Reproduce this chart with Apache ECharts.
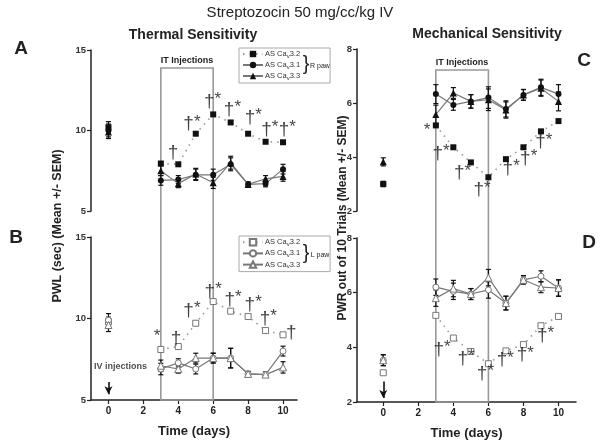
<!DOCTYPE html>
<html><head><meta charset="utf-8">
<script src="https://cdn.jsdelivr.net/npm/echarts@6/dist/echarts.min.js"></script>
<style>html,body{margin:0;padding:0;background:#fff}#c{width:601px;height:442px}</style>
</head><body><div id="c"></div>
<script>
const FONT = 'Liberation Sans, Arial, sans-serif';
const days = [0, 3, 4, 5, 6, 7, 8, 9, 10];
const xTicks = [0, 2, 4, 6, 8, 10];

// Panel A: thermal, right paw
const thermR_32 = [10.2, 7.95, 7.9, 9.8, 11.0, 10.5, 9.8, 9.3, 9.27];
const thermR_31 = [10.0, 6.9, 6.95, 7.25, 7.25, 7.9, 6.65, 6.7, 7.6];
const thermR_33 = [9.9, 7.5, 6.7, 7.3, 6.75, 8.0, 6.65, 7.0, 7.15];
const thermR_32_err = [0.35, 0.12, 0.1, 0.1, 0.1, 0.1, 0.1, 0.1, 0.1];
const thermR_31_err = [0.4, 0.3, 0.25, 0.35, 0.35, 0.4, 0.15, 0.2, 0.3];
const thermR_33_err = [0.4, 0.3, 0.25, 0.35, 0.35, 0.4, 0.15, 0.2, 0.3];

// Panel B: thermal, left paw
const thermL_32 = [9.8, 8.1, 8.28, 9.71, 11.04, 10.45, 10.12, 9.26, 9.0];
const thermL_31 = [9.9, 6.9, 7.28, 6.9, 7.57, 7.57, 6.6, 6.56, 8.0];
const thermL_33 = [9.6, 7.1, 6.9, 7.57, 7.57, 7.57, 6.6, 6.56, 7.0];
const thermL_32_err = [0.3, 0.1, 0.1, 0.1, 0.1, 0.1, 0.1, 0.1, 0.1];
const thermL_31_err = [0.4, 0.35, 0.25, 0.3, 0.3, 0.6, 0.15, 0.15, 0.3];
const thermL_33_err = [0.4, 0.35, 0.25, 0.3, 0.3, 0.6, 0.15, 0.15, 0.35];

// Panel C: mechanical, right paw
const mechR_32 = [3.0, 5.17, 4.36, 3.8, 3.25, 3.92, 4.36, 4.95, 5.33];
const mechR_31 = [3.0, 6.33, 5.93, 6.06, 6.2, 5.78, 6.3, 6.58, 6.33];
const mechR_33 = [3.82, 5.57, 6.37, 6.06, 6.12, 5.74, 6.3, 6.55, 6.06];
const mechR_32_err = [0.05, 0.05, 0.05, 0.05, 0.05, 0.05, 0.05, 0.05, 0.05];
const mechR_31_err = [0.1, 0.35, 0.2, 0.25, 0.4, 0.3, 0.2, 0.3, 0.35];
const mechR_33_err = [0.15, 0.35, 0.2, 0.25, 0.4, 0.3, 0.2, 0.3, 0.35];

// Panel D: mechanical, left paw
const mechL_32 = [3.07, 5.17, 4.34, 3.85, 3.4, 3.87, 4.1, 4.79, 5.13];
const mechL_31 = [3.53, 6.2, 6.05, 5.95, 6.1, 5.62, 6.47, 6.6, 6.17];
const mechL_33 = [3.53, 5.8, 6.15, 5.95, 6.55, 5.62, 6.47, 6.2, 6.17];
const mechL_32_err = [0.05, 0.05, 0.05, 0.05, 0.05, 0.05, 0.05, 0.05, 0.05];
const mechL_31_err = [0.2, 0.3, 0.3, 0.2, 0.3, 0.25, 0.15, 0.2, 0.3];
const mechL_33_err = [0.2, 0.3, 0.3, 0.2, 0.3, 0.25, 0.15, 0.2, 0.3];

// significance annotations [day, value, text]
const annA = [[3.7, 8.6, '†'], [4.78, 10.4, '†*'], [5.96, 11.8, '†*'], [7.1, 11.3, '†*'], [8.3, 10.8, '†*'], [9.24, 10.06, '†*'], [10.25, 10.06, '†*']];
const annB = [[2.78, 8.8, '*'], [3.87, 8.75, '†'], [4.78, 10.5, '†*'], [6.0, 11.66, '†*'], [7.14, 11.15, '†*'], [8.29, 10.86, '†*'], [9.16, 10.0, '†*'], [10.47, 9.1, '†']];
const annC = [[2.5, 4.9, '*'], [3.3, 4.13, '†*'], [4.53, 3.4, '†*'], [5.64, 2.78, '†*'], [7.3, 3.58, '†*'], [8.3, 3.94, '†*'], [9.16, 4.56, '†*']];
const annD = [[3.35, 3.92, '†*'], [4.72, 3.59, '†*'], [5.83, 3.04, '†*'], [6.97, 3.53, '†*'], [8.11, 3.71, '†*'], [9.26, 4.44, '†*']];

const legendNames = {s32: 'AS Ca{s|v}3.2', s31: 'AS Ca{s|v}3.1', s33: 'AS Ca{s|v}3.3'};

function lineData(vals) {
  const d = days.map((x, i) => [x, vals[i]]);
  d.splice(1, 0, [1.5, null]);
  return d;
}
function errData(vals, errs) {
  return days.map((x, i) => [x, vals[i] - errs[i], vals[i] + errs[i]]);
}
function lineSeries(name, gi, vals, sym, filled, dotted) {
  return {
    type: 'line', name, xAxisIndex: gi, yAxisIndex: gi, data: lineData(vals),
    symbol: sym, symbolSize: sym === 'triangle' ? 7 : 6, showSymbol: true, connectNulls: false, z: 4,
    itemStyle: filled ? {color: '#111'} : {color: '#fff', borderColor: '#777', borderWidth: 1},
    lineStyle: dotted ? {color: '#999', width: 1.6, type: [1.5, 5]} : {color: '#777', width: 1.2}
  };
}
function errSeries(gi, vals, errs, color) {
  return {
    type: 'custom', xAxisIndex: gi, yAxisIndex: gi, data: errData(vals, errs), z: 3, silent: true,
    encode: {x: 0, y: [1, 2]},
    renderItem: function (params, api) {
      const x = api.value(0);
      const p1 = api.coord([x, api.value(1)]);
      const p2 = api.coord([x, api.value(2)]);
      const w = 2.5;
      const st = {stroke: color, lineWidth: 1.2};
      return {type: 'group', children: [
        {type: 'line', shape: {x1: p1[0], y1: p1[1], x2: p2[0], y2: p2[1]}, style: st},
        {type: 'line', shape: {x1: p1[0] - w, y1: p1[1], x2: p1[0] + w, y2: p1[1]}, style: st},
        {type: 'line', shape: {x1: p2[0] - w, y1: p2[1], x2: p2[0] + w, y2: p2[1]}, style: st}
      ]};
    }
  };
}
function annSeries(gi, ann) {
  return {
    type: 'scatter', xAxisIndex: gi, yAxisIndex: gi, data: ann, symbolSize: 1, z: 5, silent: true,
    itemStyle: {color: 'rgba(0,0,0,0)'},
    label: {show: true, position: 'inside', formatter: p => {
      const t = p.data[2];
      return t.split('').map(c => c === '†' ? '{d|†}' : '{s|*}').join('');
    }, rich: {
      d: {fontSize: 19, color: '#111', fontFamily: FONT},
      s: {fontSize: 17, color: '#111', fontFamily: FONT, padding: [0, 0, 4, 0]}
    }}
  };
}
function itBox(gi) {
  return {
    type: 'line', xAxisIndex: gi, yAxisIndex: gi, data: [[-0.5, 0.5]], showSymbol: false, z: 1, silent: true,
    lineStyle: {opacity: 0},
    markArea: {silent: true, itemStyle: {color: 'rgba(0,0,0,0)', borderColor: '#999', borderWidth: 1.6},
      label: {show: true, position: 'top', distance: 2, formatter: 'IT Injections', fontSize: 9, fontWeight: 'bold', color: '#222', fontFamily: FONT},
      data: [[{coord: [3, 0]}, {coord: [6, 1]}]]}
  };
}
function xAxis(gi, min, max, show) {
  return {
    type: 'value', gridIndex: gi, min, max, show,
    axisLine: {onZero: false, lineStyle: {color: '#222', width: 1.5}},
    axisTick: {show: true, customValues: xTicks, length: 4, lineStyle: {color: '#222', width: 1.2}},
    axisLabel: {customValues: xTicks, fontSize: 10, fontWeight: 'bold', color: '#222', margin: 6, fontFamily: FONT},
    splitLine: {show: false},
    name: show ? 'Time (days)' : '', nameLocation: 'middle', nameGap: 25,
    nameTextStyle: {fontSize: 13, fontWeight: 'bold', color: '#222', fontFamily: FONT}
  };
}
function yAxis(gi, min, max, interval, show) {
  return {
    type: 'value', gridIndex: gi, min, max, interval, show,
    axisLine: {show: true, onZero: false, lineStyle: {color: '#222', width: 1.5}},
    axisTick: {show: true, length: 4, lineStyle: {color: '#222', width: 1.2}},
    axisLabel: {fontSize: 9.5, fontWeight: 'bold', color: '#333', margin: 5, fontFamily: FONT},
    splitLine: {show: false}
  };
}
function legend(prefix, top) {
  return {
    data: [prefix + '32', prefix + '31', prefix + '33'],
    orient: 'vertical', left: 239, top, itemWidth: 20, itemHeight: 8, itemGap: 2,
    padding: [2, 30, 2, 3], borderColor: '#aaa', borderWidth: 1, selectedMode: false,
    formatter: n => legendNames['s' + n.slice(1)],
    textStyle: {fontSize: 7.5, color: '#333', fontFamily: FONT, padding: [0, 0, 0, -3],
      rich: {s: {fontSize: 6, color: '#333', padding: [4, 0, 0, 0], fontFamily: FONT}}}
  };
}

const series = [
  itBox(4), itBox(5),
  // A
  errSeries(0, thermR_32, thermR_32_err, '#111'), errSeries(0, thermR_31, thermR_31_err, '#111'), errSeries(0, thermR_33, thermR_33_err, '#111'),
  lineSeries('A32', 0, thermR_32, 'rect', true, true),
  lineSeries('A31', 0, thermR_31, 'circle', true, false),
  lineSeries('A33', 0, thermR_33, 'triangle', true, false),
  annSeries(0, annA),
  // B
  errSeries(1, thermL_32, thermL_32_err, '#777'), errSeries(1, thermL_31, thermL_31_err, '#111'), errSeries(1, thermL_33, thermL_33_err, '#111'),
  lineSeries('B32', 1, thermL_32, 'rect', false, true),
  lineSeries('B31', 1, thermL_31, 'circle', false, false),
  lineSeries('B33', 1, thermL_33, 'triangle', false, false),
  annSeries(1, annB),
  {type: 'scatter', xAxisIndex: 1, yAxisIndex: 1, data: [[0, 7.05]], symbolSize: 1, itemStyle: {color: 'rgba(0,0,0,0)'}, silent: true,
    label: {show: true, position: 'inside', offset: [12, 0], formatter: 'IV injections', fontSize: 9, fontWeight: 'bold', color: '#222', fontFamily: FONT},
    markLine: {silent: true, symbol: ['none', 'arrow'], symbolSize: [6, 8], label: {show: false}, lineStyle: {color: '#111', width: 1.6, type: 'solid'},
      data: [[{coord: [0, 6.1]}, {coord: [0, 5.35]}]]}},
  // C
  errSeries(2, mechR_32, mechR_32_err, '#111'), errSeries(2, mechR_31, mechR_31_err, '#111'), errSeries(2, mechR_33, mechR_33_err, '#111'),
  lineSeries('C32', 2, mechR_32, 'rect', true, true),
  lineSeries('C31', 2, mechR_31, 'circle', true, false),
  lineSeries('C33', 2, mechR_33, 'triangle', true, false),
  annSeries(2, annC),
  // D
  errSeries(3, mechL_32, mechL_32_err, '#777'), errSeries(3, mechL_31, mechL_31_err, '#111'), errSeries(3, mechL_33, mechL_33_err, '#111'),
  lineSeries('D32', 3, mechL_32, 'rect', false, true),
  lineSeries('D31', 3, mechL_31, 'circle', false, false),
  lineSeries('D33', 3, mechL_33, 'triangle', false, false),
  annSeries(3, annD),
  {type: 'scatter', xAxisIndex: 3, yAxisIndex: 3, data: [], silent: true,
    markLine: {silent: true, symbol: ['none', 'arrow'], symbolSize: [6, 8], label: {show: false}, lineStyle: {color: '#111', width: 1.6, type: 'solid'},
      data: [[{coord: [0, 2.75]}, {coord: [0, 2.15]}]]}}
];

function txt(x, y, text, size, bold, extra) {
  return Object.assign({type: 'text', x, y, silent: true, style: {text, fontSize: size, fontWeight: bold ? 'bold' : 'normal', fill: '#222', fontFamily: FONT, align: 'center', verticalAlign: 'middle'}}, extra || {});
}

const option = {
  animation: false,
  backgroundColor: '#fff',
  textStyle: {fontFamily: FONT},
  grid: [
    {left: 91, top: 50, width: 206, height: 161},
    {left: 91, top: 237, width: 206, height: 163},
    {left: 357, top: 49, width: 219, height: 162},
    {left: 357, top: 238, width: 219, height: 164},
    {left: 91, top: 68, width: 206, height: 332},
    {left: 357, top: 70, width: 219, height: 332}
  ],
  xAxis: [xAxis(0, -1, 10.8, false), xAxis(1, -1, 10.8, true), xAxis(2, -1.5, 11, false), xAxis(3, -1.5, 11, true),
          xAxis(4, -1, 10.8, false), xAxis(5, -1.5, 11, false)],
  yAxis: [yAxis(0, 5, 15, 5, true), yAxis(1, 5, 15, 5, true), yAxis(2, 2, 8, 2, true), yAxis(3, 2, 8, 2, true),
          yAxis(4, 0, 1, 1, false), yAxis(5, 0, 1, 1, false)],
  legend: [legend('A', 48), legend('B', 236)],
  series,
  graphic: [
    txt(300, 13, 'Streptozocin 50 mg/cc/kg IV', 15, false),
    txt(193, 35, 'Thermal Sensitivity', 14, true),
    txt(487, 34, 'Mechanical Sensitivity', 14, true),
    txt(21, 49, 'A', 19, true),
    txt(16, 238, 'B', 19, true),
    txt(584, 61, 'C', 19, true),
    txt(589, 243, 'D', 19, true),
    txt(58, 226, 'PWL (sec) (Mean +/- SEM)', 12.5, true, {rotation: Math.PI / 2}),
    txt(343, 218, 'PWR out of 10 Trials (Mean +/- SEM)', 12, true, {rotation: Math.PI / 2}),
    txt(306, 64, '}', 20, false),
    txt(320, 66, 'R paw', 7, false),
    txt(306, 253, '}', 20, false),
    txt(320, 255, 'L paw', 7, false)
  ]
};
const chart = echarts.init(document.getElementById('c'), null, {renderer: 'canvas'});
chart.setOption(option);
</script></body></html>
